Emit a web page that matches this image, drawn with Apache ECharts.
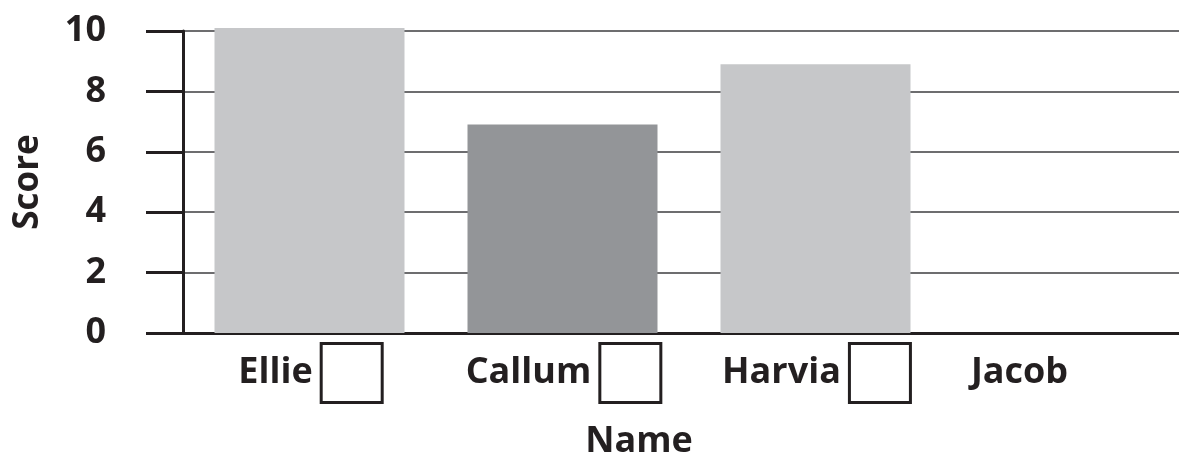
<!DOCTYPE html>
<html>
<head>
<meta charset="utf-8">
<script src="https://cdn.jsdelivr.net/npm/echarts@6/dist/echarts.min.js"></script>
<style>
  html, body { margin: 0; padding: 0; background: #ffffff; }
  #chart { width: 1179px; height: 457px; }
</style>
</head>
<body>
<div id="chart"></div>
<script>
// ---- data ----
const names = ['Ellie', 'Callum', 'Harvia', 'Jacob'];
const scores = [10.1, 6.9, 8.9, null];
const boxedNames = ['Ellie', 'Callum', 'Harvia'];
const yTicks = { min: 0, max: 10, step: 2 };
const axisTitles = { x: 'Name', y: 'Score' };

// ---- styles ----
const ink = '#231f20';
const lightBar = '#c6c7c9';
const darkBar = '#939598';
const font = 'Open Sans';

const chart = echarts.init(document.getElementById('chart'), null, { renderer: 'canvas' });

const option = {
  backgroundColor: '#ffffff',
  animation: false,
  grid: { left: 183, top: 31, width: 1012, height: 302, containLabel: false, outerBoundsMode: 'none' },
  xAxis: {
    type: 'category',
    data: names,
    name: axisTitles.x,
    nameLocation: 'middle',
    nameGap: 91,
    nameTextStyle: {
      fontFamily: font, fontWeight: 'bold', fontSize: 36, color: ink,
      padding: [0, 100, 0, 0]
    },
    axisLine: { show: true, lineStyle: { color: ink, width: 3 } },
    axisTick: { show: false },
    splitLine: { show: false },
    axisLabel: {
      margin: 12,
      interval: 0,
      formatter: function (v) {
        return boxedNames.indexOf(v) >= 0
          ? '{name|' + v + '}{box| }'
          : '{name|' + v + '}{ghost| }';
      },
      rich: {
        name: { fontFamily: font, fontWeight: 'bold', fontSize: 36, color: ink, padding: [0, 10, 0, 0] },
        box: { width: 58, height: 56, borderColor: ink, borderWidth: 3, backgroundColor: '#ffffff' },
        ghost: { width: 88, height: 56 }
      }
    }
  },
  yAxis: {
    type: 'value',
    min: yTicks.min,
    max: yTicks.max,
    interval: yTicks.step,
    name: axisTitles.y,
    nameLocation: 'middle',
    nameGap: 137,
    nameRotate: 90,
    nameTextStyle: { fontFamily: font, fontWeight: 'bold', fontSize: 35, color: ink },
    axisLine: { show: true, lineStyle: { color: ink, width: 3 } },
    axisTick: { show: true, inside: false, length: 37, lineStyle: { color: ink, width: 3 } },
    axisLabel: {
      margin: 77,
      fontFamily: font, fontWeight: 'bold', fontSize: 36, color: ink
    },
    splitLine: { show: true, lineStyle: { color: '#3d3d3f', width: 1.5 } }
  },
  series: [{
    type: 'bar',
    data: scores,
    barWidth: 190,
    clip: false,
    itemStyle: {
      color: function (p) { return p.dataIndex === 1 ? darkBar : lightBar; }
    }
  }]
};

chart.setOption(option);
</script>
</body>
</html>
